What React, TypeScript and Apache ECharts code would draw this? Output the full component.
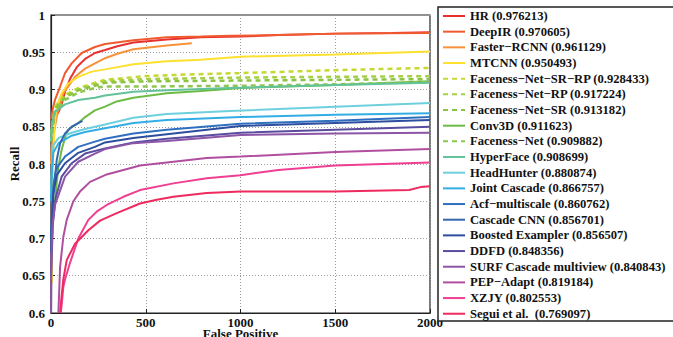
import React, { useEffect, useRef } from "react";
import * as echarts from "echarts";

const names = [
  "HR (0.976213)",
  "DeepIR (0.970605)",
  "Faster\u2212RCNN (0.961129)",
  "MTCNN (0.950493)",
  "Faceness\u2212Net\u2212SR\u2212RP (0.928433)",
  "Faceness\u2212Net\u2212RP (0.917224)",
  "Faceness\u2212Net\u2212SR (0.913182)",
  "Conv3D (0.911623)",
  "Faceness\u2212Net (0.909882)",
  "HyperFace (0.908699)",
  "HeadHunter (0.880874)",
  "Joint Cascade (0.866757)",
  "Acf\u2212multiscale (0.860762)",
  "Cascade CNN (0.856701)",
  "Boosted Exampler (0.856507)",
  "DDFD (0.848356)",
  "SURF Cascade multiview (0.840843)",
  "PEP\u2212Adapt (0.819184)",
  "XZJY (0.802553)",
  "Segui et al.  (0.769097)",
];

const colors = [
  "#e8302f", "#f05a30", "#f7923a", "#fde030", "#c5d930", "#a5cf45", "#8ac440",
  "#6dbb45", "#8dc74f", "#62c29a", "#6dd0dc", "#33aee5", "#2f6fbf", "#3566b0",
  "#2d4e9e", "#5a4c9f", "#8c55a8", "#b04f9f", "#ef3f93", "#ee2a5e",
];

const dashed = [false, false, false, false, true, true, true, false, true, false, false, false, false, false, false, false, false, false, false, false];

const hr = [[0,0.85],[20,0.862],[40,0.870],[56,0.880],[74,0.897],[100,0.914],[136,0.930],[180,0.941],[232,0.949],[285,0.953],[350,0.958],[435,0.963],[611,0.967],[790,0.970],[1000,0.971],[1200,0.973],[1500,0.975],[1800,0.976],[2000,0.977]];
const deepIR = [[0,0.86],[10,0.875],[21,0.886],[48,0.904],[74,0.922],[109,0.935],[162,0.949],[232,0.957],[285,0.961],[435,0.966],[611,0.970],[790,0.971],[945,0.972],[1200,0.973],[1500,0.975],[2000,0.976]];
const fasterRcnn = [[0,0.80],[3,0.823],[21,0.850],[39,0.875],[65,0.895],[91,0.904],[127,0.917],[180,0.928],[232,0.935],[285,0.942],[350,0.948],[435,0.954],[611,0.959],[743,0.962]];
const mtcnn = [[5,0.64],[7,0.75],[10,0.80],[15,0.83],[21,0.858],[30,0.877],[56,0.895],[91,0.908],[144,0.917],[215,0.924],[285,0.927],[435,0.934],[611,0.938],[790,0.940],[1000,0.944],[1500,0.947],[2000,0.951]];
const facenessSrRp = [[0,0.84],[21,0.877],[74,0.893],[144,0.902],[232,0.909],[285,0.913],[500,0.918],[700,0.920],[1000,0.922],[1500,0.926],[2000,0.929]];
const facenessRp = [[0,0.84],[21,0.875],[74,0.891],[144,0.900],[232,0.907],[285,0.911],[500,0.914],[1000,0.916],[1500,0.917],[2000,0.918]];
const facenessSr = [[0,0.84],[21,0.873],[74,0.889],[144,0.899],[232,0.905],[285,0.909],[500,0.911],[1000,0.912],[1500,0.913],[2000,0.914]];
const conv3d = [[21,0.75],[30,0.774],[39,0.796],[56,0.819],[74,0.835],[91,0.846],[144,0.855],[180,0.863],[232,0.872],[285,0.877],[347,0.884],[435,0.889],[611,0.895],[790,0.898],[1000,0.902],[1500,0.906],[2000,0.911]];
const facenessNet = [[0,0.83],[21,0.870],[74,0.886],[144,0.896],[232,0.902],[285,0.904],[500,0.904],[1000,0.905],[1500,0.907],[2000,0.910]];
const hyperFace = [[0,0.83],[5,0.855],[21,0.870],[74,0.880],[144,0.886],[232,0.889],[285,0.892],[435,0.897],[611,0.899],[945,0.902],[1500,0.906],[2000,0.909]];
const headHunter = [[0,0.76],[5,0.80],[12,0.825],[40,0.835],[109,0.842],[180,0.847],[285,0.853],[435,0.862],[611,0.867],[945,0.871],[1500,0.877],[2000,0.882]];
const jointCascade = [[0,0.75],[5,0.79],[12,0.815],[40,0.828],[109,0.838],[180,0.843],[285,0.848],[435,0.855],[611,0.859],[1000,0.863],[1500,0.866],[2000,0.868]];
const acf = [[0,0.70],[12,0.77],[25,0.79],[39,0.798],[74,0.810],[144,0.823],[232,0.830],[285,0.834],[435,0.841],[611,0.846],[1000,0.854],[1500,0.858],[2000,0.863]];
const cascadeCnn = [[0,0.70],[7,0.744],[18,0.774],[30,0.805],[48,0.828],[74,0.841],[109,0.850],[166,0.858]];
const boosted = [[0,0.68],[12,0.76],[30,0.785],[74,0.801],[144,0.815],[232,0.823],[285,0.829],[435,0.835],[611,0.840],[1000,0.851],[1500,0.855],[2000,0.859]];
const ddfd = [[0,0.65],[10,0.72],[25,0.755],[56,0.783],[109,0.801],[180,0.814],[285,0.821],[435,0.829],[611,0.834],[1000,0.842],[1500,0.846],[2000,0.850]];
const surf = [[0,0.6],[3,0.68],[8,0.72],[21,0.745],[39,0.758],[74,0.783],[144,0.803],[232,0.814],[285,0.820],[435,0.828],[611,0.831],[1000,0.839],[1500,0.841],[2000,0.842]];
const pepAdapt = [[39,0.6],[48,0.662],[65,0.702],[83,0.725],[118,0.75],[153,0.763],[206,0.776],[294,0.786],[382,0.792],[470,0.798],[646,0.803],[822,0.808],[1000,0.810],[1500,0.816],[2000,0.820]];
const xzjy = [[51,0.6],[56,0.61],[65,0.635],[74,0.645],[100,0.667],[144,0.700],[197,0.725],[241,0.736],[294,0.745],[382,0.756],[470,0.765],[646,0.774],[822,0.781],[1000,0.785],[1200,0.792],[1500,0.798],[2000,0.802]];
const segui = [[48,0.6],[55,0.62],[65,0.645],[83,0.671],[127,0.693],[197,0.711],[259,0.724],[347,0.734],[470,0.747],[558,0.752],[646,0.756],[822,0.761],[1000,0.763],[1500,0.763],[1890,0.765],[1950,0.769],[2000,0.770]];

const seriesData = [hr, deepIR, fasterRcnn, mtcnn, facenessSrRp, facenessRp, facenessSr, conv3d, facenessNet, hyperFace, headHunter, jointCascade, acf, cascadeCnn, boosted, ddfd, surf, pepAdapt, xzjy, segui];

const xTicks = [0, 500, 1000, 1500, 2000];
const yMin = 0.6;
const yMax = 1;
const yStep = 0.05;

const FONT = "'Liberation Serif', 'Times New Roman', serif";

export default function App() {
  const ref = useRef<HTMLDivElement>(null);
  useEffect(() => {
    if (!ref.current) return;
    const chart = echarts.init(ref.current, null, { renderer: "svg" });
    const labelStyle = { fontFamily: FONT, fontWeight: "bold" as const, fontSize: 13, color: "#111" };
    chart.setOption({
      animation: false,
      backgroundColor: "#fff",
      grid: {
        left: 51, top: 15, width: 379, height: 298,
        outerBoundsMode: "none",
        containLabel: false,
        show: true, borderColor: "#222", borderWidth: 1.2, backgroundColor: "transparent",
      },
      xAxis: {
        type: "value",
        min: xTicks[0], max: xTicks[xTicks.length - 1], interval: 500,
        name: "False Positive", nameLocation: "middle", nameGap: 14,
        nameMoveOverlap: false,
        nameTextStyle: { ...labelStyle, fontSize: 13 },
        axisLine: { show: true, lineStyle: { color: "#222", width: 1.2 } },
        axisTick: { show: true, inside: true, length: 4, lineStyle: { color: "#222" } },
        axisLabel: { ...labelStyle, margin: 3, formatter: (v: number) => String(v) },
        splitLine: { show: true, lineStyle: { color: "#999", type: [1, 2], width: 1 } },
      },
      yAxis: {
        type: "value",
        min: yMin, max: yMax, interval: yStep,
        name: "Recall", nameLocation: "middle", nameGap: 30, nameRotate: 90,
        nameMoveOverlap: false,
        nameTextStyle: { ...labelStyle, fontSize: 13 },
        axisLine: { show: true, lineStyle: { color: "#222", width: 1.2 } },
        axisTick: { show: true, inside: true, length: 4, lineStyle: { color: "#222" } },
        axisLabel: { ...labelStyle, margin: 6, formatter: (v: number) => String(parseFloat(v.toFixed(2))) },
        splitLine: { show: true, lineStyle: { color: "#999", type: [1, 2], width: 1 } },
      },
      legend: {
        orient: "vertical",
        left: 442, top: 9,
        padding: 0,
        itemWidth: 22, itemHeight: 12, itemGap: 1.67,
        z: 6,
        itemStyle: { color: "transparent", borderColor: "transparent", borderWidth: 0, opacity: 0 },
        textStyle: { ...labelStyle, fontSize: 12.6, lineHeight: 14 },
        data: names,
      },
      graphic: [
        {
          type: "rect", z: 5, silent: true,
          shape: { x: 438, y: 7, width: 260, height: 314 },
          style: { fill: "#fff", stroke: "#222", lineWidth: 1.5 },
        },
      ],
      series: seriesData.map((d, i) => ({
        name: names[i],
        type: "line",
        data: d,
        symbol: "none",
        showSymbol: false,
        clip: true,
        color: colors[i],
        lineStyle: { color: colors[i], width: dashed[i] ? 2.5 : 2, type: dashed[i] ? [5, 4] : "solid" },
      })),
    });
    return () => chart.dispose();
  }, []);
  return <div ref={ref} style={{ position: "fixed", left: 0, top: 0, width: 673, height: 337 }} />;
}
